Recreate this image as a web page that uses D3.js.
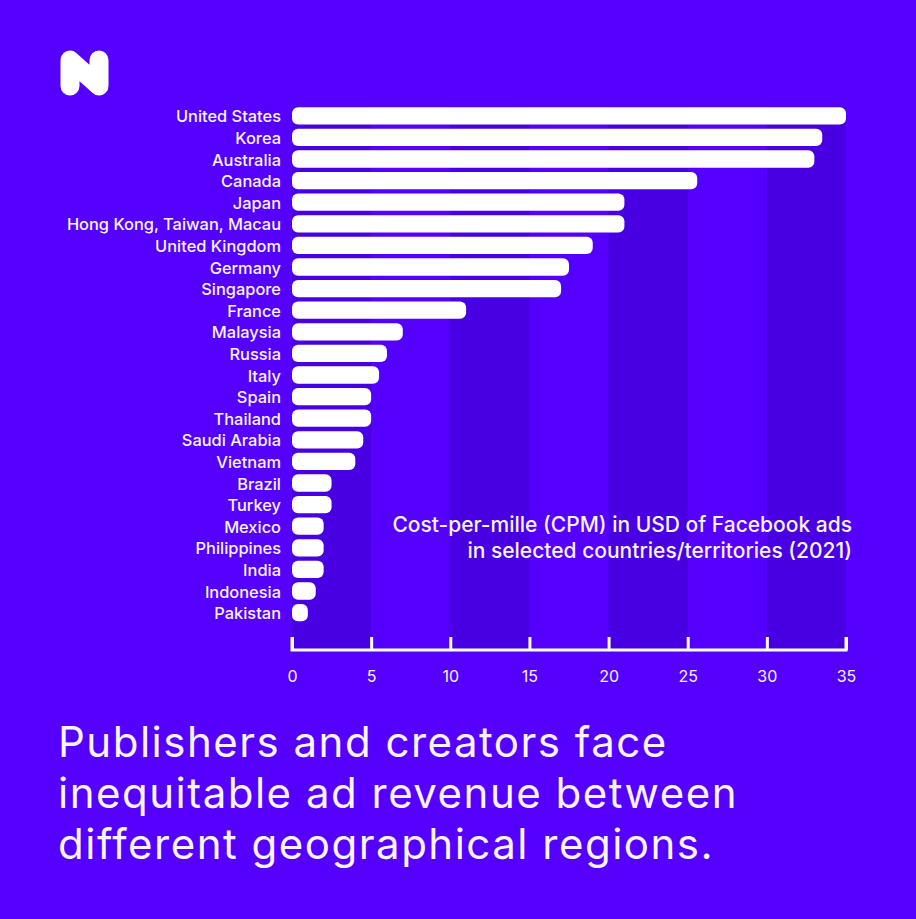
<!DOCTYPE html>
<html>
<head>
<meta charset="utf-8">
<script src="https://cdn.jsdelivr.net/npm/d3@7"></script>
<style>
  html, body { margin: 0; padding: 0; background: #5500FE; }
  svg { display: block; }
  text { font-family: Inter, "Noto Sans", sans-serif; fill: #F7F3FF; }
</style>
</head>
<body>
<svg id="chart" width="916" height="919"></svg>
<script>
const countries = ["United States","Korea","Australia","Canada","Japan","Hong Kong, Taiwan, Macau","United Kingdom","Germany","Singapore","France","Malaysia","Russia","Italy","Spain","Thailand","Saudi Arabia","Vietnam","Brazil","Turkey","Mexico","Philippines","India","Indonesia","Pakistan"];
const cpm = [35, 33.5, 33, 25.6, 21, 21, 19, 17.5, 17, 11, 7, 6, 5.5, 5, 5, 4.5, 4, 2.5, 2.5, 2, 2, 2, 1.5, 1];
const tickValues = [0, 5, 10, 15, 20, 25, 30, 35];
const stripeStarts = [0, 10, 20, 30];
const subtitleLines = ["Cost-per-mille (CPM) in USD of Facebook ads", "in selected countries/territories (2021)"];
const titleLines = ["Publishers and creators face", "inequitable ad revenue between", "different geographical regions."];

const svg = d3.select("#chart");
const W = 916, H = 919;
svg.append("rect").attr("width", W).attr("height", H).attr("fill", "#5500FE");

const x = d3.scaleLinear().domain([0, 35]).range([292, 846]);
const y = d3.scaleBand().domain(countries).range([105, 623.4]).paddingInner(0.2).paddingOuter(0.1);
const axisY = 650;
const plotTop = y(countries[0]);

// stripes
svg.append("g").selectAll("rect").data(stripeStarts).join("rect")
  .attr("x", d => x(d)).attr("width", d => x(d + 5) - x(d))
  .attr("y", plotTop).attr("height", axisY - plotTop)
  .attr("fill", "#4800E2");

// bars
svg.append("g").selectAll("rect").data(countries).join("rect")
  .attr("x", x(0)).attr("y", d => y(d))
  .attr("width", (d, i) => x(cpm[i]) - x(0))
  .attr("height", y.bandwidth())
  .attr("rx", 6).attr("ry", 6)
  .attr("fill", "#FFFFFF");

// labels
svg.append("g").selectAll("text").data(countries).join("text")
  .attr("x", 281).attr("y", d => y(d) + y.bandwidth() / 2)
  .attr("dy", "0.4em")
  .attr("text-anchor", "end")
  .attr("font-size", 16.4).attr("font-weight", 500)
  .text(d => d);

// axis
const axis = d3.axisBottom(x).tickValues(tickValues).tickSize(-13).tickPadding(0).tickFormat(d3.format("d"));
const ag = svg.append("g").attr("transform", `translate(0,${axisY})`).call(axis);
ag.select(".domain").attr("stroke", "#FFFFFF").attr("stroke-width", 3).attr("d", `M${x(0)},-13V0H${x(35)}V-13`);
ag.selectAll(".tick line").attr("stroke", "#FFFFFF").attr("stroke-width", 3);
ag.selectAll(".tick text").attr("fill", "#F7F3FF").attr("font-size", 16).attr("font-family", "Inter, sans-serif")
  .attr("y", 26).attr("dy", "0.35em");

// subtitle
const sub = svg.append("text")
  .attr("x", 852).attr("y", 532)
  .attr("text-anchor", "end")
  .attr("font-size", 21).attr("font-weight", 500);
sub.selectAll("tspan").data(subtitleLines).join("tspan")
  .attr("x", 852).attr("dy", (d, i) => i === 0 ? 0 : 26)
  .text(d => d);

// title
svg.append("g").selectAll("text").data(titleLines).join("text")
  .attr("x", 58).attr("y", (d, i) => 757 + i * 51)
  .attr("font-size", 42).attr("font-weight", 400)
  .attr("letter-spacing", 1.5)
  .text(d => d);

// logo
svg.append("path")
  .attr("d", "M70,60 L70,86 M70,60 L99,86 M99,60 L99,86")
  .attr("fill", "none").attr("stroke", "#FFFFFF")
  .attr("stroke-width", 19).attr("stroke-linecap", "round").attr("stroke-linejoin", "round");
</script>
</body>
</html>
